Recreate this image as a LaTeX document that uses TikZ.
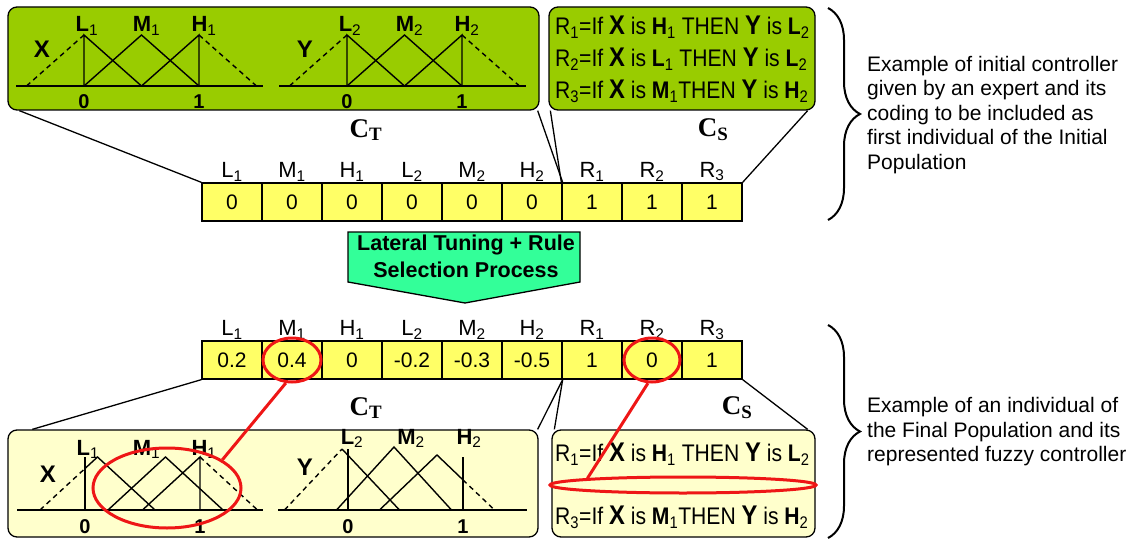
\documentclass[tikz,border=0pt]{standalone}
\usepackage{fontspec}
\setmainfont{Liberation Sans}
\newfontfamily\timesbold{Liberation Serif}
\newfontfamily\rulefont[FakeStretch=0.88]{Liberation Sans}
\usepackage{tikz}
\usetikzlibrary{decorations.pathreplacing,shapes.geometric}

\definecolor{panelgreen}{RGB}{153,204,0}
\definecolor{panelcream}{RGB}{255,255,204}
\definecolor{cellyellow}{RGB}{255,255,102}
\definecolor{arrowgreen}{RGB}{51,255,153}
\definecolor{markred}{RGB}{238,22,22}

\newcommand{\rulevar}[1]{{\fontsize{27}{27}\selectfont\bfseries #1}}
\newcommand{\chromname}[2]{{\timesbold\bfseries\fontsize{27}{27}\selectfont #1\textsubscript{#2}}}

\tikzset{
	panelA/.style={draw, line width=1.3pt, rounded corners=9pt, fill=panelgreen, inner sep=0pt},
	panelB/.style={draw, line width=1.3pt, rounded corners=9pt, fill=panelcream, inner sep=0pt},
	gene/.style={draw, line width=1.3pt, fill=cellyellow, minimum width=60, minimum height=38, inner sep=0pt, font=\fontsize{21}{22}\selectfont},
	genelabel/.style={inner sep=1pt, label distance=0pt, font=\fontsize{22}{24}\selectfont},
	mf/.style={line width=1.4pt},
	outside/.style={line width=1.4pt, dash pattern=on 5pt off 4pt},
	mflabel/.style={inner sep=0pt, anchor=base, font=\fontsize{22}{24}\selectfont},
	varlabel/.style={inner sep=0pt, font=\fontsize{24}{24}\selectfont\bfseries},
	tick/.style={inner sep=0pt, font=\fontsize{20}{20}\selectfont\bfseries},
	rule/.style={inner sep=0pt, anchor=west, font=\rulefont\fontsize{24}{26}\selectfont},
	ring/.style={draw=markred, line width=3pt, ellipse, inner sep=0pt},
	redline/.style={draw=markred, line width=3pt},
	brace/.style={line width=2pt, decorate, decoration={brace, amplitude=32pt}},
	note/.style={inner sep=0pt, anchor=west, align=left, font=\fontsize{21}{24.5}\selectfont}
}

\begin{document}
\begin{tikzpicture}[x=1pt,y=-1pt]
	%%Frame
	\useasboundingbox (0,0) rectangle (1132,540);
	%%Panels
	\node[panelA, minimum width=531, minimum height=103] (ctinit) at (273.5,58.5) {};
	\node[panelA, minimum width=266, minimum height=103] (csinit) at (682,58.5) {};
	\node[panelB, minimum width=530, minimum height=107] (ctfinal) at (273,483.5) {};
	\node[panelB, minimum width=263, minimum height=107] (csfinal) at (683.5,483.5) {};
	
	%%Initial partitions X and Y
	\foreach \dx/\var/\k in {0/X/1,263/Y/2}{
		\begin{scope}[xshift=\dx]
			\draw[mf] (16,86) -- (263,86);
			\draw[outside] (26.5,86) -- (84,35) (199,35) -- (256.5,86);
			\draw[mf] (84,86) -- (84,35) -- (141.5,86);
			\draw[mf] (84,86) -- (141.5,35) -- (199,86);
			\draw[mf] (141.5,86) -- (199,35) -- (199,86);
			\node[varlabel] (var\k) at (42,49) {\var};
			\node[mflabel] (low\k) at (87,32) {\textbf{L}\textsubscript{\k}};
			\node[mflabel] (mid\k) at (146.5,32) {\textbf{M}\textsubscript{\k}};
			\node[mflabel] (high\k) at (204,32) {\textbf{H}\textsubscript{\k}};
			\node[tick] (zero\k) at (84,102) {0};
			\node[tick] (one\k) at (199,102) {1};
		\end{scope}
	}
	
	%%Initial rules
	\node[rule] (ruleA1) at (555,27) {R\textsubscript{1}=If \rulevar{X} is \textbf{H}\textsubscript{1} THEN \rulevar{Y} is \textbf{L}\textsubscript{2}};
	\node[rule] (ruleA2) at (555,59) {R\textsubscript{2}=If \rulevar{X} is \textbf{L}\textsubscript{1} THEN \rulevar{Y} is \textbf{L}\textsubscript{2}};
	\node[rule] (ruleA3) at (555,91) {R\textsubscript{3}=If \rulevar{X} is \textbf{M}\textsubscript{1}THEN \rulevar{Y} is \textbf{H}\textsubscript{2}};
	
	%%Chromosomes
	\foreach \n/\s/\v [count=\i] in {L/1/0,M/1/0,H/1/0,L/2/0,M/2/0,H/2/0,R/1/1,R/2/1,R/3/1}
		\node[gene, label={[genelabel]above:\n\textsubscript{\s}}] (ini\i) at ({172+60*\i},202) {\v};
	\foreach \n/\s/\v [count=\i] in {L/1/0.2,M/1/0.4,H/1/0,L/2/-0.2,M/2/-0.3,H/2/-0.5,R/1/1,R/2/0,R/3/1}
		\node[gene, label={[genelabel]above:\n\textsubscript{\s}}] (fin\i) at ({172+60*\i},360) {\v};
	
	%%Part names
	\node (ctA) at (366,130) {\chromname{C}{T}};
	\node (csA) at (713,130) {\chromname{C}{S}};
	\node (ctB) at (366,408) {\chromname{C}{T}};
	\node (csB) at (737,408) {\chromname{C}{S}};
	
	%%Links
	\draw[line width=1.3pt] ([xshift=12]ctinit.south west) -- (ini1.north west);
	\draw[line width=1.3pt] ([xshift=-2]ctinit.south east) -- (ini6.north east);
	\draw[line width=1.3pt] ([xshift=2]csinit.south west) -- (ini7.north west);
	\draw[line width=1.3pt] ([xshift=-8]csinit.south east) -- (ini9.north east);
	\draw[line width=1.3pt] (fin1.south west) -- ([xshift=25]ctfinal.north west);
	\draw[line width=1.3pt] (fin6.south east) -- ([xshift=-1]ctfinal.north east);
	\draw[line width=1.3pt] (fin6.south east) -- ([xshift=3]csfinal.north west);
	\draw[line width=1.3pt] (fin9.south east) -- ([xshift=-8]csfinal.north east);
	
	%%Process arrow
	\draw[line width=1.3pt, fill=arrowgreen] (348,232) -- (580,232) -- (580,282) -- (465,303) -- (348,282) -- cycle;
	\node[align=center, inner sep=0pt, font=\fontsize{21.5}{27}\selectfont\bfseries] (process) at (466,256) {Lateral Tuning + Rule\\Selection Process};
	
	%%Final partition X
	\draw[mf] (17,510) -- (263,510);
	\draw[outside] (40,510) -- (85,468.5) (200,457) -- (257.5,510);
	\draw[mf] (85,468.5) -- (97.5,457) -- (155,510);
	\draw[mf] (85,457) -- (85,510);
	\draw[mf] (108,510) -- (165.5,457) -- (223,510);
	\draw[mf] (142.5,510) -- (200,457) -- (200,510);
	\node[varlabel] (varB1) at (48,474) {X};
	\node[mflabel] (lowB1) at (88,455) {\textbf{L}\textsubscript{1}};
	\node[mflabel] (midB1) at (146.5,455) {\textbf{M}\textsubscript{1}};
	\node[mflabel] (highB1) at (204,455) {\textbf{H}\textsubscript{1}};
	\node[tick] (zeroB1) at (85,527) {0};
	\node[tick] (oneB1) at (200,527) {1};
	
	%%Final partition Y
	\draw[mf] (278,510) -- (527,510);
	\draw[outside] (284.5,510) -- (342,449) (463,479.9) -- (494.5,510);
	\draw[mf] (342,449) -- (399.5,510);
	\draw[mf] (348,449) -- (348,510);
	\draw[mf] (336.5,510) -- (394,447) -- (451.5,510);
	\draw[mf] (379.5,510) -- (437,455) -- (463,479.9);
	\draw[mf] (463,457) -- (463,510);
	\node[varlabel] (varB2) at (305,467) {Y};
	\node[mflabel] (lowB2) at (352,444) {\textbf{L}\textsubscript{2}};
	\node[mflabel] (midB2) at (411,444) {\textbf{M}\textsubscript{2}};
	\node[mflabel] (highB2) at (469,444) {\textbf{H}\textsubscript{2}};
	\node[tick] (zeroB2) at (348,527) {0};
	\node[tick] (oneB2) at (463,527) {1};
	
	%%Final rules
	\node[rule] (ruleB1) at (555,454) {R\textsubscript{1}=If \rulevar{X} is \textbf{H}\textsubscript{1} THEN \rulevar{Y} is \textbf{L}\textsubscript{2}};
	\node[rule] (ruleB3) at (555,517) {R\textsubscript{3}=If \rulevar{X} is \textbf{M}\textsubscript{1}THEN \rulevar{Y} is \textbf{H}\textsubscript{2}};
	
	%%Marks
	\node[ring, minimum width=58, minimum height=44] (ringM) at (fin2) {};
	\node[ring, minimum width=56, minimum height=44] (ringR) at (fin8) {};
	\node[ring, minimum width=148, minimum height=80] (ringX) at (167,488) {};
	\node[ring, minimum width=266, minimum height=16] (ringRule) at (683,485) {};
	\draw[redline] (ringM.-105) -- (ringX.27);
	\draw[redline] (ringR.-100) -- (ringRule.176);
	
	%%Braces and notes
	\draw[brace] (828,8) -- (828,220);
	\draw[brace] (828,325) -- (828,538);
	\node[note] (initnote) at (867,115) {Example of initial controller\\given by an expert and its\\coding to be included as\\first individual of the Initial\\Population};
	\node[note] (finalnote) at (867,432) {Example of an individual of\\the Final Population and its\\represented fuzzy controller};
\end{tikzpicture}
\end{document}
